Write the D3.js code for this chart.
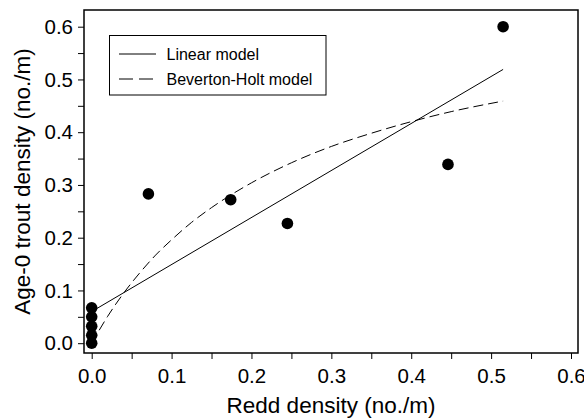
<!DOCTYPE html>
<html>
<head>
<meta charset="utf-8">
<script src="https://cdn.jsdelivr.net/npm/d3@7"></script>
<style>
  html, body { margin: 0; padding: 0; background: #fff; }
  svg { display: block; }
  text { font-family: "Liberation Sans", Arial, Helvetica, sans-serif; fill: #000; }
</style>
</head>
<body>
<svg id="chart" width="584" height="419"></svg>
<script>
// ---- data ----
const reddDensity  = [0, 0, 0, 0, 0, 0.071, 0.174, 0.245, 0.446, 0.515];
const troutDensity = [0.0, 0.015, 0.032, 0.05, 0.067, 0.283, 0.272, 0.227, 0.339, 0.600];

const linearX = [0, 0.515];
const linearY = [0.060, 0.519];

const bhX = [0, 0.02, 0.04, 0.06, 0.08, 0.1, 0.125, 0.15, 0.2, 0.25, 0.3, 0.35, 0.4, 0.45, 0.515];
const bhY = [0, 0.051, 0.095, 0.133, 0.167, 0.196, 0.229, 0.257, 0.304, 0.342, 0.373, 0.398, 0.420, 0.439, 0.459];

const xTicks = [0, 0.1, 0.2, 0.3, 0.4, 0.5, 0.6];
const yTicks = [0, 0.1, 0.2, 0.3, 0.4, 0.5, 0.6];
const minorTicks = [0.05, 0.15, 0.25, 0.35, 0.45, 0.55];

const legendLabels = ["Linear model", "Beverton-Holt model"];
const xTitle = "Redd density (no./m)";
const yTitle = "Age-0 trout density (no./m)";

// ---- layout ----
const frame = { left: 84, top: 10, right: 578, bottom: 353 };
const svg = d3.select("#chart");

const x = d3.scaleLinear().domain([0, 0.6]).range([91.7, 571]);
const y = d3.scaleLinear().domain([0, 0.6]).range([343.2, 26.7]);

// frame
svg.append("rect")
  .attr("x", frame.left).attr("y", frame.top)
  .attr("width", frame.right - frame.left).attr("height", frame.bottom - frame.top)
  .attr("fill", "none").attr("stroke", "#000").attr("stroke-width", 1.5);

// bottom axis
const fmt = d3.format(".1f");
const xAxis = svg.append("g")
  .attr("transform", `translate(0,${frame.bottom})`)
  .call(d3.axisBottom(x).tickValues(xTicks).tickFormat(fmt).tickSize(6).tickPadding(9));
xAxis.append("g").call(d3.axisBottom(x).tickValues(minorTicks).tickFormat("").tickSize(6));
xAxis.selectAll(".domain").remove();
xAxis.selectAll("line").attr("stroke", "#000").attr("stroke-width", 1);
xAxis.selectAll("text").attr("font-size", 20.5).attr("font-family", "Liberation Sans, Arial, sans-serif");

// left axis
const yAxis = svg.append("g")
  .attr("transform", `translate(${frame.left},0)`)
  .call(d3.axisLeft(y).tickValues(yTicks).tickFormat(fmt).tickSize(6).tickPadding(5));
yAxis.append("g").call(d3.axisLeft(y).tickValues(minorTicks).tickFormat("").tickSize(6));
yAxis.selectAll(".domain").remove();
yAxis.selectAll("line").attr("stroke", "#000").attr("stroke-width", 1);
yAxis.selectAll("text").attr("font-size", 20.5).attr("font-family", "Liberation Sans, Arial, sans-serif");

// axis titles
svg.append("text")
  .attr("x", (frame.left + frame.right) / 2).attr("y", 413)
  .attr("text-anchor", "middle").attr("font-size", 22.5)
  .text(xTitle);
svg.append("text")
  .attr("transform", `translate(30,${(frame.top + frame.bottom) / 2}) rotate(-90)`)
  .attr("text-anchor", "middle").attr("font-size", 22.5)
  .text(yTitle);

// model lines
const line = d3.line().x(d => x(d[0])).y(d => y(d[1]));
svg.append("path")
  .datum(linearX.map((v, i) => [v, linearY[i]]))
  .attr("d", line).attr("fill", "none").attr("stroke", "#000").attr("stroke-width", 1);
svg.append("path")
  .datum(bhX.map((v, i) => [v, bhY[i]]))
  .attr("d", line.curve(d3.curveMonotoneX)).attr("fill", "none")
  .attr("stroke", "#000").attr("stroke-width", 1).attr("stroke-dasharray", "10,5");

// points
svg.append("g").selectAll("circle")
  .data(reddDensity.map((v, i) => [v, troutDensity[i]]))
  .join("circle")
  .attr("cx", d => x(d[0])).attr("cy", d => y(d[1]))
  .attr("r", 5.8).attr("fill", "#000");

// legend
const lg = svg.append("g");
lg.append("rect").attr("x", 109.5).attr("y", 35.5).attr("width", 216.5).attr("height", 59.5)
  .attr("fill", "#fff").attr("stroke", "#000").attr("stroke-width", 1);
const rows = [54, 79];
legendLabels.forEach((lab, i) => {
  lg.append("line").attr("x1", 119).attr("x2", 156).attr("y1", rows[i]).attr("y2", rows[i])
    .attr("stroke", "#000").attr("stroke-width", 1)
    .attr("stroke-dasharray", i === 1 ? "14,6" : null);
  lg.append("text").attr("x", 166.5).attr("y", rows[i] + 5.6)
    .attr("font-size", 16).text(lab);
});
</script>
</body>
</html>
